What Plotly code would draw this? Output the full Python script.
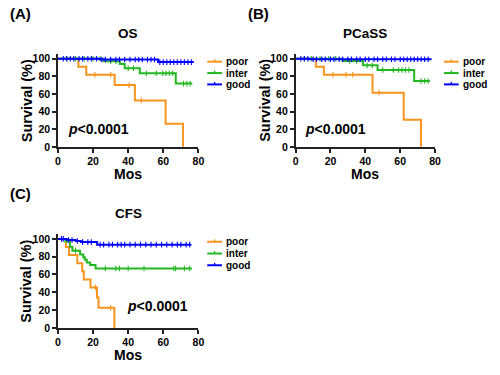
import plotly.graph_objects as go

# ---------------- data ----------------
groups = ["poor", "inter", "good"]
colors = {"poor": "#F7941D", "inter": "#22B822", "good": "#0000FF"}
x_ticks = [0, 20, 40, 60, 80]
y_ticks = [0, 20, 40, 60, 80, 100]

# OS
os_poor_t = [0, 11.6, 16.1, 32.3, 43.8, 61.3, 71.2]
os_poor_s = [100, 90.9, 81.8, 70.1, 52.6, 26.3, 0]
os_poor_c = [21, 30, 40.5, 47.5]
os_inter_t = [0, 26, 35.2, 38, 46.6, 67.1, 76.5]
os_inter_s = [100, 97.3, 94.1, 89.2, 83.6, 71.8, 71.8]
os_inter_c = [5, 10, 15, 20, 24, 30, 33, 40, 43, 50.3, 56, 59.7, 61.5, 63.4, 65.3, 71.5, 73.4, 75.3]
os_good_t = [0, 24, 57, 77.4]
os_good_s = [100, 99.2, 96.2, 96.2]
os_good_c = [3, 5, 7, 9, 12, 14, 17, 19, 22, 25, 27, 30, 33, 35, 38, 41, 44, 46, 48, 51, 53, 55,
             58, 60, 62, 64, 66, 68, 70, 72, 74, 76]

# PCaSS
pc_poor_t = [0, 11.6, 16.2, 44.1, 62, 71.9]
pc_poor_s = [100, 90.9, 81.8, 61.4, 30.7, 0]
pc_poor_c = [21.4, 28.9, 32.7, 47.9]
pc_inter_t = [0, 26.9, 38.7, 47, 68, 77]
pc_inter_s = [100, 97.5, 92.5, 87.2, 74.8, 74.8]
pc_inter_c = [5, 9, 14, 19, 23, 31, 35, 41, 44, 50, 56, 59, 61, 63, 65, 72, 74, 76]
pc_good_t = [0, 8, 78]
pc_good_s = [100, 99.4, 99.4]
pc_good_c = [3, 5, 7, 10, 12, 15, 17, 20, 22, 25, 27, 30, 32, 35, 37, 40, 42, 45, 47, 50, 52, 55,
             57, 60, 62, 64, 66, 68, 70, 72, 74, 76]

# CFS
cf_poor_t = [0, 4.5, 6.3, 11, 13.8, 14.7, 18.5, 22.2, 23.1, 32.1]
cf_poor_s = [100, 90.9, 81.8, 72.7, 63.6, 54.5, 45.5, 34.1, 22.7, 0]
cf_poor_c = [21.4, 30]
cf_inter_t = [0, 4.2, 6.8, 8.2, 12.6, 14.4, 15.3, 16.4, 18.3, 21.4, 76.3]
cf_inter_s = [100, 97, 91.2, 86.8, 82.4, 79.4, 76.5, 73.5, 70.6, 66.7, 66.7]
cf_inter_c = [10, 27, 33, 35, 40, 49, 66, 67, 72, 75]
cf_good_t = [0, 5, 10, 13, 22.3, 76]
cf_good_s = [100, 98.8, 97.6, 96.4, 93.5, 93.5]
cf_good_c = [2, 3, 6, 8, 11, 14, 17, 19, 24, 26, 29, 31, 34, 36, 38, 41, 44, 47, 50, 53, 56, 59,
             62, 65, 68, 70, 73, 75]

panels = [
    dict(letter="(A)", title="OS", ax="", data={
        "poor": (os_poor_t, os_poor_s, os_poor_c),
        "inter": (os_inter_t, os_inter_s, os_inter_c),
        "good": (os_good_t, os_good_s, os_good_c)},
        pval=(23, 20)),
    dict(letter="(B)", title="PCaSS", ax="2", data={
        "poor": (pc_poor_t, pc_poor_s, pc_poor_c),
        "inter": (pc_inter_t, pc_inter_s, pc_inter_c),
        "good": (pc_good_t, pc_good_s, pc_good_c)},
        pval=(23, 20)),
    dict(letter="(C)", title="CFS", ax="3", data={
        "poor": (cf_poor_t, cf_poor_s, cf_poor_c),
        "inter": (cf_inter_t, cf_inter_s, cf_inter_c),
        "good": (cf_good_t, cf_good_s, cf_good_c)},
        pval=(56.5, 25)),
]

# ---------------- layout geometry (pixels in a 500x375 canvas) ----------------
W, H = 500, 375
geom = [
    dict(x0=56, x1=199, y0=148, ytop=53.5),
    dict(x0=298, x1=440, y0=148, ytop=53.5),
    dict(x0=56, x1=199, y0=333, ytop=237.5),
]
FONT = "Arial, Liberation Sans, sans-serif"


def surv_at(ts, ss, t):
    v = ss[0]
    for ti, si in zip(ts, ss):
        if ti <= t:
            v = si
    return v


fig = go.Figure()
annotations = []
shapes = []

for p, g in zip(panels, geom):
    xa = "x" + p["ax"]
    ya = "y" + p["ax"]
    for grp in groups:
        ts, ss, cs = p["data"][grp]
        fig.add_trace(go.Scatter(x=ts, y=ss, mode="lines", line=dict(color=colors[grp], width=2, shape="hv"),
                                 xaxis=xa, yaxis=ya, showlegend=False, hoverinfo="skip"))
        fig.add_trace(go.Scatter(x=cs, y=[surv_at(ts, ss, c) for c in cs], mode="markers",
                                 marker=dict(symbol="line-ns", size=4, line=dict(color=colors[grp], width=1.1)),
                                 xaxis=xa, yaxis=ya, showlegend=False, hoverinfo="skip"))
    xd = [g["x0"] / W, g["x1"] / W]
    yd = [1 - g["y0"] / H, 1 - g["ytop"] / H]
    axcommon = dict(showline=True, linecolor="#222", linewidth=1.5, ticks="outside", ticklen=4,
                    tickwidth=1.5, tickcolor="#222", showgrid=False, zeroline=False,
                    tickfont=dict(family=FONT, size=10.5, color="black", weight="bold"))
    fig.layout["xaxis" + p["ax"]] = dict(domain=xd, range=[0, 80], tickvals=x_ticks,
                                         anchor=ya, **axcommon)
    fig.layout["yaxis" + p["ax"]] = dict(domain=yd, range=[0, 105], tickvals=y_ticks,
                                         anchor=xa, **axcommon)

    cx = (g["x0"] + g["x1"]) / 2 / W
    # panel letter
    annotations.append(dict(text="<b>" + p["letter"] + "</b>", xref="paper", yref="paper",
                            x=(g["x0"] - 51) / W, y=1 - (g["ytop"] - 42) / H, xanchor="left",
                            yanchor="middle", showarrow=False,
                            font=dict(family=FONT, size=15, color="black")))
    # title
    annotations.append(dict(text="<b>" + p["title"] + "</b>", xref="paper", yref="paper",
                            x=cx, y=1 - (g["ytop"] - 21) / H, xanchor="center", yanchor="middle",
                            showarrow=False, font=dict(family=FONT, size=13.5, color="black")))
    # y title
    annotations.append(dict(text="<b>Survival (%)</b>", xref="paper", yref="paper",
                            x=(g["x0"] - 32) / W, y=1 - ((g["y0"] + g["ytop"]) / 2 + 0) / H,
                            xanchor="center", yanchor="middle", textangle=-90, showarrow=False,
                            font=dict(family=FONT, size=14.5, color="black")))
    # x title
    annotations.append(dict(text="<b>Mos</b>", xref="paper", yref="paper",
                            x=cx, y=1 - (g["y0"] + 28) / H, xanchor="center", yanchor="middle",
                            showarrow=False, font=dict(family=FONT, size=14, color="black")))
    # p value
    annotations.append(dict(text="<b><i>p</i>&lt;0.0001</b>", xref=xa, yref=ya,
                            x=p["pval"][0], y=p["pval"][1], xanchor="center", yanchor="middle",
                            showarrow=False, font=dict(family=FONT, size=14, color="black")))
    # legend (drawn manually to match the compact spacing)
    lx0 = g["x1"] + 9
    lx1 = lx0 + 15
    gap = 11.6 if p["ax"] != "3" else 12
    for i, grp in enumerate(groups):
        yy = g["ytop"] + 7.5 + i * gap
        shapes.append(dict(type="line", xref="paper", yref="paper", x0=lx0 / W, x1=lx1 / W,
                           y0=1 - yy / H, y1=1 - yy / H, line=dict(color=colors[grp], width=2)))
        shapes.append(dict(type="line", xref="paper", yref="paper", x0=(lx0 + lx1) / 2 / W,
                           x1=(lx0 + lx1) / 2 / W, y0=1 - (yy - 2.5) / H, y1=1 - (yy + 0.5) / H,
                           line=dict(color=colors[grp], width=1.3)))
        annotations.append(dict(text="<b>" + grp + "</b>", xref="paper", yref="paper",
                                x=(lx1 + 3) / W, y=1 - yy / H, xanchor="left", yanchor="middle",
                                showarrow=False, borderpad=0,
                                font=dict(family=FONT, size=10, color="black")))

fig.update_layout(width=W, height=H, autosize=False, margin=dict(l=0, r=0, t=0, b=0),
                  plot_bgcolor="white", paper_bgcolor="white", showlegend=False,
                  annotations=annotations, shapes=shapes)

fig.write_html("out.html", config={"displayModeBar": False},
               post_script="document.body.style.margin='0px';")
